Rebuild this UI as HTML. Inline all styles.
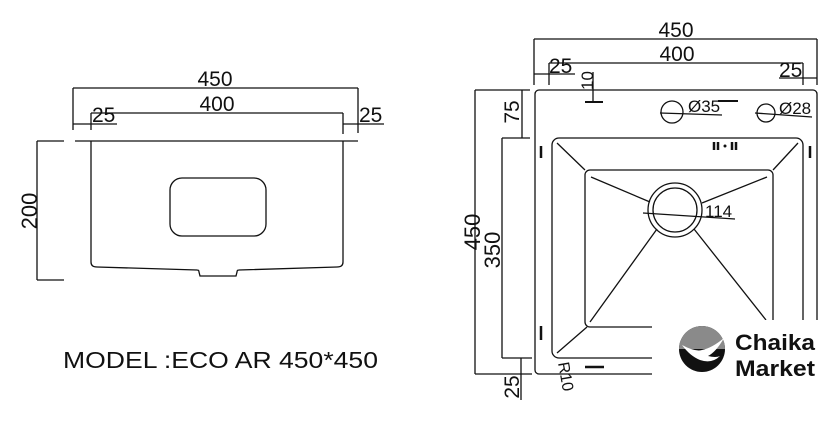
<!DOCTYPE html>
<html><head><meta charset="utf-8"><style>
html,body{margin:0;padding:0;background:#fff;width:840px;height:421px;overflow:hidden}
text{font-family:"Liberation Sans",sans-serif;fill:#111}
</style></head><body>
<svg width="840" height="421" viewBox="0 0 840 421" xmlns="http://www.w3.org/2000/svg">
<g stroke="#111" stroke-width="1.3" fill="none">
<line x1="73" y1="88" x2="358" y2="88"/>
<line x1="73" y1="88" x2="73" y2="130"/>
<line x1="358" y1="88" x2="358" y2="133"/>
<line x1="91" y1="113" x2="343" y2="113"/>
<line x1="91" y1="113" x2="91" y2="130"/>
<line x1="343" y1="113" x2="343" y2="134"/>
<line x1="73" y1="124" x2="117" y2="124"/>
<line x1="343" y1="124" x2="384" y2="124"/>
<line x1="75" y1="141" x2="358" y2="141"/>
<path d="M91 141 V262 Q91 267 97 267 L197 270 Q199 270 199 272 L200 276 L236 276 L237 272 Q237 270 239 270 L337 267 Q343 267 343 262 V141"/>
<rect x="170" y="178" width="96" height="58" rx="12"/>
<line x1="37" y1="141" x2="37" y2="280"/>
<line x1="37" y1="141" x2="64" y2="141"/>
<line x1="37" y1="280" x2="64" y2="280"/>
<line x1="534" y1="39" x2="817" y2="39"/>
<line x1="534" y1="39" x2="534" y2="85"/>
<line x1="817" y1="39" x2="817" y2="85"/>
<line x1="549" y1="63" x2="803" y2="63"/>
<line x1="549" y1="63" x2="549" y2="85"/>
<line x1="803" y1="63" x2="803" y2="85"/>
<line x1="534" y1="74" x2="575" y2="74"/>
<line x1="779" y1="78" x2="817" y2="78"/>
<line x1="593" y1="72" x2="593" y2="102"/>
<line x1="585" y1="102" x2="603" y2="102" stroke-width="2"/>
<rect x="535" y="90" width="282" height="284" rx="4"/>
<circle cx="672" cy="112" r="11"/>
<line x1="660" y1="113" x2="722" y2="115"/>
<line x1="718" y1="101" x2="738" y2="101" stroke-width="2"/>
<circle cx="766" cy="113" r="9"/>
<line x1="755" y1="113" x2="812" y2="117"/>
<rect x="552" y="138" width="251" height="220" rx="7"/>
<rect x="585" y="170" width="188" height="157" rx="5"/>
<circle cx="675" cy="210" r="27"/>
<circle cx="675" cy="210" r="22"/>
<line x1="643" y1="213" x2="735" y2="219"/>
<line x1="557" y1="143" x2="585" y2="170"/>
<line x1="798" y1="143" x2="773" y2="170"/>
<line x1="557" y1="353" x2="587" y2="327"/>
<line x1="591" y1="177" x2="650" y2="202"/>
<line x1="767" y1="177" x2="702" y2="203"/>
<line x1="590" y1="322" x2="657" y2="229"/>
<line x1="766" y1="320" x2="694" y2="229"/>
<g stroke-width="2.5">
<line x1="541" y1="146" x2="541" y2="158"/>
<line x1="810" y1="146" x2="810" y2="158"/>
<line x1="541" y1="326" x2="541" y2="340"/>
<line x1="714" y1="142" x2="714" y2="150"/><line x1="718" y1="142" x2="718" y2="150"/>
<line x1="732" y1="142" x2="732" y2="150"/><line x1="736" y1="142" x2="736" y2="150"/>
<line x1="585" y1="367" x2="604" y2="367"/>
</g>
<line x1="475" y1="90" x2="475" y2="374"/>
<line x1="475" y1="90" x2="530" y2="90"/>
<line x1="475" y1="374" x2="532" y2="374"/>
<line x1="522" y1="90" x2="522" y2="138"/>
<line x1="502" y1="138" x2="502" y2="358"/>
<line x1="502" y1="138" x2="530" y2="138"/>
<line x1="502" y1="358" x2="532" y2="358"/>
<line x1="521" y1="358" x2="521" y2="400"/>
</g>
<circle cx="725" cy="146" r="1.5" fill="#111"/>
<text x="215" y="86" font-size="21" text-anchor="middle">450</text>
<text x="217" y="111" font-size="21" text-anchor="middle">400</text>
<text x="92" y="122" font-size="21">25</text>
<text x="359" y="122" font-size="21">25</text>
<text transform="translate(37,211) rotate(-90)" font-size="22" text-anchor="middle">200</text>
<text x="63" y="368" font-size="23" textLength="315" lengthAdjust="spacingAndGlyphs">MODEL :ECO AR 450*450</text>
<text x="676" y="37" font-size="21" text-anchor="middle">450</text>
<text x="677" y="61" font-size="21" text-anchor="middle">400</text>
<text x="549" y="73" font-size="21">25</text>
<text x="779" y="77" font-size="21">25</text>
<text transform="translate(593,90) rotate(-90)" font-size="17">10</text>
<text x="688" y="112" font-size="17">Ø35</text>
<text x="779" y="114" font-size="17">Ø28</text>
<text x="705" y="217" font-size="17">114</text>
<text transform="translate(480,232) rotate(-90)" font-size="22" text-anchor="middle">450</text>
<text transform="translate(500,250) rotate(-90)" font-size="22" text-anchor="middle">350</text>
<text transform="translate(519,112) rotate(-90)" font-size="21" text-anchor="middle">75</text>
<text transform="translate(519,387) rotate(-90)" font-size="21" text-anchor="middle">25</text>
<text transform="translate(558,363) rotate(80)" font-size="16">R10</text>
<rect x="652" y="320" width="188" height="101" fill="#fff"/>
<circle cx="702" cy="349" r="23" fill="#111"/>
<path d="M679 349 A23 23 0 0 1 725 349 Z" fill="#8a8a8a"/>
<path d="M682 345 Q695 352 702 350 Q712 348 724 338 Q716 352 708 356 Q716 358 720 356 Q712 364 700 360 Q690 356 682 345 Z" fill="#fff"/>
<text x="735" y="350" font-size="22" font-weight="bold" textLength="80" lengthAdjust="spacingAndGlyphs" fill="#222">Chaika</text>
<text x="735" y="376" font-size="22" font-weight="bold" textLength="80" lengthAdjust="spacingAndGlyphs" fill="#222">Market</text>
</svg>
</body></html>
